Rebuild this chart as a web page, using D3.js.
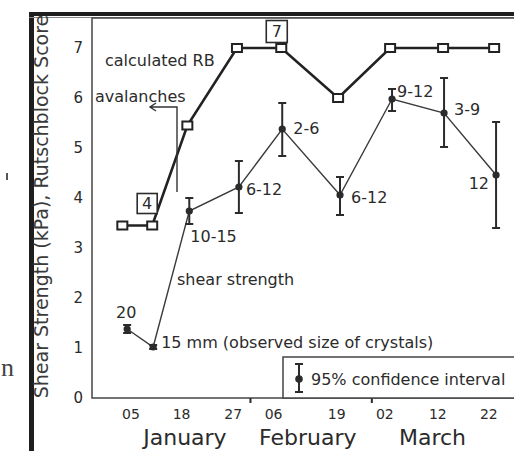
<!DOCTYPE html>
<html>
<head>
<meta charset="utf-8">
<script src="https://cdn.jsdelivr.net/npm/d3@7"></script>
<style>
    html, body { margin: 0; padding: 0; background: #fff; }
    svg { display: block; font-family: "DejaVu Sans", sans-serif; }
</style>
</head>
<body>
<div id="chart"></div>
<script>
// ============================================================================
// DATA
// ============================================================================
// x values are days counted from 1 January

const xTickLabels  = ["05", "18", "27", "06", "19", "02", "12", "22"];
const xTickDays    = [4.5, 15, 25.7, 34.1, 47.2, 57.2, 68.2, 78.8];
const monthNames   = ["January", "February", "March"];
const monthCenters = [15.8, 41.3, 67.2];
const monthBreaks  = [29.3, 54.5];
const yTicks       = [0, 1, 2, 3, 4, 5, 6, 7];

// calculated Rutschblock score
const rbDays  = [2.8, 9.0, 16.3, 26.6, 35.8, 47.6, 58.4, 69.4, 80.0];
const rbScore = [3.45, 3.45, 5.45, 7, 7, 6, 7, 7, 7];

// shear strength (kPa) with 95% confidence interval
const shearDays = [3.8, 9.2, 16.7, 27.0, 36.0, 48.0, 58.8, 69.6, 80.4];
const shearMean = [1.38, 1.02, 3.74, 4.22, 5.38, 4.06, 5.98, 5.70, 4.46];
const shearLow  = [1.30, 0.98, 3.48, 3.70, 4.84, 3.66, 5.74, 5.02, 3.40];
const shearHigh = [1.46, 1.06, 4.00, 4.74, 5.90, 4.42, 6.18, 6.40, 5.52];

// observed size of crystals (mm) written next to each shear point
const crystalSize = ["20", "15 mm (observed size of crystals)", "10-15", "6-12",
                     "2-6", "6-12", "9-12", "3-9", "12"];


// ============================================================================
// SETUP
// ============================================================================

const W = 514, H = 451;
const plotLeft = 92, plotTop = 18, plotBottom = 398;

const x = d3.scaleLinear()
    .domain([-3.5, 88])
    .range([plotLeft, plotLeft + 91.5 * 4.816]);

const y = d3.scaleLinear()
    .domain([0, 7.6])
    .range([plotBottom, plotTop]);

const svg = d3.select("#chart")
    .append("svg")
    .attr("width", W)
    .attr("height", H);

const ink = "#2b2b2b";

// scan fragments of the neighbouring page text
svg.append("text")
    .attr("x", 1).attr("y", 376)
    .style("font-family", "'Liberation Serif', serif")
    .style("font-size", "26px")
    .attr("fill", "#444")
    .text("n");

svg.append("line")
    .attr("x1", 7).attr("x2", 7)
    .attr("y1", 173).attr("y2", 180)
    .attr("stroke", "#555")
    .attr("stroke-width", 2);

// thick page frame (left + top)
svg.append("line")
    .attr("x1", 31.5).attr("x2", 31.5)
    .attr("y1", 12).attr("y2", H)
    .attr("stroke", "#1e1e1e")
    .attr("stroke-width", 5);

svg.append("line")
    .attr("x1", 29).attr("x2", W)
    .attr("y1", 14).attr("y2", 14)
    .attr("stroke", "#1e1e1e")
    .attr("stroke-width", 4);

svg.append("line")
    .attr("x1", 29).attr("x2", W)
    .attr("y1", 17.5).attr("y2", 17.5)
    .attr("stroke", "#888")
    .attr("stroke-width", 1.2);

// plot box
svg.append("rect")
    .attr("x", plotLeft)
    .attr("y", plotTop)
    .attr("width", 600)
    .attr("height", plotBottom - plotTop)
    .attr("fill", "none")
    .attr("stroke", "#444")
    .attr("stroke-width", 1.5);


// ============================================================================
// AXES
// ============================================================================

const yAxisG = svg.append("g")
    .attr("transform", `translate(${plotLeft},0)`)
    .call(d3.axisLeft(y).tickValues(yTicks).tickSize(0).tickPadding(9).tickFormat(d3.format("d")));

yAxisG.select(".domain").remove();
yAxisG.selectAll("text")
    .style("font-size", "15px")
    .style("font-family", "'DejaVu Sans', sans-serif")
    .attr("fill", ink);

const xAxisG = svg.append("g")
    .attr("transform", `translate(0,${plotBottom})`)
    .call(d3.axisBottom(x).tickValues(xTickDays).tickSize(0).tickPadding(11)
        .tickFormat((d, i) => xTickLabels[i]));

xAxisG.select(".domain").remove();
xAxisG.selectAll("text")
    .style("font-size", "14px")
    .style("font-family", "'DejaVu Sans', sans-serif")
    .attr("fill", ink);

const monthAxisG = svg.append("g")
    .attr("transform", `translate(0,${plotBottom})`)
    .call(d3.axisBottom(x).tickValues(monthBreaks).tickSize(5).tickFormat(""));

monthAxisG.select(".domain").remove();
monthAxisG.selectAll("line")
    .attr("stroke", ink)
    .attr("stroke-width", 2);

svg.selectAll("text.month")
    .data(monthNames)
    .join("text")
    .attr("class", "month")
    .attr("x", (d, i) => x(monthCenters[i]))
    .attr("y", 445)
    .attr("text-anchor", "middle")
    .style("font-size", "22px")
    .attr("fill", ink)
    .text(d => d);

svg.append("text")
    .attr("transform", `translate(48,${(plotBottom + 15) / 2}) rotate(-90)`)
    .attr("text-anchor", "middle")
    .style("font-size", "19px")
    .attr("fill", "#3a3a3a")
    .text("Shear Strength (kPa), Rutschblock Score");


// ============================================================================
// LEGEND
// ============================================================================

svg.append("rect")
    .attr("x", 283)
    .attr("y", 357)
    .attr("width", 300)
    .attr("height", plotBottom - 357)
    .attr("fill", "#fff")
    .attr("stroke", "#444")
    .attr("stroke-width", 1.5);

const legG = svg.append("g").attr("transform", "translate(299,0)");

legG.append("line")
    .attr("y1", 364).attr("y2", 392)
    .attr("stroke", ink).attr("stroke-width", 2);

legG.selectAll("line.cap")
    .data([364, 392])
    .join("line")
    .attr("class", "cap")
    .attr("x1", -4).attr("x2", 4)
    .attr("y1", d => d).attr("y2", d => d)
    .attr("stroke", ink).attr("stroke-width", 2);

legG.append("circle")
    .attr("cy", 379)
    .attr("r", 3.8)
    .attr("fill", ink);

svg.append("text")
    .attr("x", 311)
    .attr("y", 385)
    .style("font-size", "16px")
    .attr("fill", ink)
    .text("95% confidence interval");


// ============================================================================
// SHEAR STRENGTH SERIES
// ============================================================================

const idx = d3.range(shearMean.length);

svg.append("path")
    .datum(idx)
    .attr("fill", "none")
    .attr("stroke", "#3a3a3a")
    .attr("stroke-width", 1.4)
    .attr("d", d3.line()
        .x(i => x(shearDays[i]))
        .y(i => y(shearMean[i])));

const errG = svg.append("g")
    .attr("stroke", ink)
    .attr("stroke-width", 2);

errG.selectAll("line.err")
    .data(idx)
    .join("line")
    .attr("class", "err")
    .attr("x1", i => x(shearDays[i])).attr("x2", i => x(shearDays[i]))
    .attr("y1", i => y(shearLow[i])).attr("y2", i => y(shearHigh[i]));

errG.selectAll("line.cap-lo")
    .data(idx)
    .join("line")
    .attr("class", "cap-lo")
    .attr("x1", i => x(shearDays[i]) - 4).attr("x2", i => x(shearDays[i]) + 4)
    .attr("y1", i => y(shearLow[i])).attr("y2", i => y(shearLow[i]));

errG.selectAll("line.cap-hi")
    .data(idx)
    .join("line")
    .attr("class", "cap-hi")
    .attr("x1", i => x(shearDays[i]) - 4).attr("x2", i => x(shearDays[i]) + 4)
    .attr("y1", i => y(shearHigh[i])).attr("y2", i => y(shearHigh[i]));

svg.selectAll("circle.shear")
    .data(idx)
    .join("circle")
    .attr("class", "shear")
    .attr("cx", i => x(shearDays[i]))
    .attr("cy", i => y(shearMean[i]))
    .attr("r", 3.6)
    .attr("fill", ink);

// crystal size labels: offsets from each point
const labelOffset = [
    { dx: -1,  dy: -11, anchor: "middle" },
    { dx: 8,   dy: 1,   anchor: "start" },
    { dx: 1,   dy: 31,  anchor: "start" },
    { dx: 7,   dy: 8,   anchor: "start" },
    { dx: 11,  dy: 5,   anchor: "start" },
    { dx: 11,  dy: 8,   anchor: "start" },
    { dx: 5,   dy: -2,  anchor: "start" },
    { dx: 10,  dy: 2,   anchor: "start" },
    { dx: -7,  dy: 14,  anchor: "end" }
];

svg.selectAll("text.size")
    .data(idx)
    .join("text")
    .attr("class", "size")
    .attr("x", i => x(shearDays[i]) + labelOffset[i].dx)
    .attr("y", i => y(shearMean[i]) + labelOffset[i].dy)
    .attr("text-anchor", i => labelOffset[i].anchor)
    .style("font-size", "16px")
    .attr("fill", ink)
    .text(i => crystalSize[i]);


// ============================================================================
// RUTSCHBLOCK SERIES
// ============================================================================

svg.append("path")
    .datum(idx)
    .attr("fill", "none")
    .attr("stroke", "#222")
    .attr("stroke-width", 2.6)
    .attr("d", d3.line()
        .x(i => x(rbDays[i]))
        .y(i => y(rbScore[i])));

svg.selectAll("rect.rb")
    .data(idx)
    .join("rect")
    .attr("class", "rb")
    .attr("x", i => x(rbDays[i]) - 5)
    .attr("y", i => y(rbScore[i]) - 4)
    .attr("width", 10)
    .attr("height", 8)
    .attr("fill", "#fff")
    .attr("stroke", "#222")
    .attr("stroke-width", 2);

// boxed observed Rutschblock scores
const boxed = [
    { i: 1, text: "4", dx: -5,   dy: -22,   w: 20, h: 20 },
    { i: 4, text: "7", dx: -4.5, dy: -16.5, w: 21, h: 22 }
];

const boxG = svg.selectAll("g.boxed")
    .data(boxed)
    .join("g")
    .attr("class", "boxed")
    .attr("transform", d => `translate(${x(rbDays[d.i]) + d.dx},${y(rbScore[d.i]) + d.dy})`);

boxG.append("rect")
    .attr("x", d => -d.w / 2).attr("y", d => -d.h / 2)
    .attr("width", d => d.w).attr("height", d => d.h)
    .attr("fill", "#fff")
    .attr("stroke", ink)
    .attr("stroke-width", 1.6);

boxG.append("text")
    .attr("text-anchor", "middle")
    .attr("dy", "0.36em")
    .style("font-size", "16px")
    .attr("fill", ink)
    .text(d => d.text);


// ============================================================================
// ANNOTATIONS
// ============================================================================

const notes = [
    { text: "calculated RB",  day: -0.8,  value: 6.64 },
    { text: "avalanches",     day: -2.88, value: 5.92 },
    { text: "shear strength", day: 14.15, value: 2.26 }
];

svg.selectAll("text.note")
    .data(notes)
    .join("text")
    .attr("class", "note")
    .attr("x", d => x(d.day))
    .attr("y", d => y(d.value))
    .style("font-size", "16px")
    .attr("fill", ink)
    .text(d => d.text);

// avalanche arrow: vertical stem, then left to the tip
const arrow = { stemDay: 14.15, tipDay: 8.54, top: 5.82, bottom: 4.12 };

svg.append("path")
    .attr("fill", "none")
    .attr("stroke", "#333")
    .attr("stroke-width", 1.4)
    .attr("d", `M${x(arrow.stemDay)},${y(arrow.bottom)}
                V${y(arrow.top)}
                H${x(arrow.tipDay)}
                M${x(arrow.tipDay) + 6},${y(arrow.top) - 4}
                L${x(arrow.tipDay)},${y(arrow.top)}
                L${x(arrow.tipDay) + 6},${y(arrow.top) + 4}`);
</script>
</body>
</html>
